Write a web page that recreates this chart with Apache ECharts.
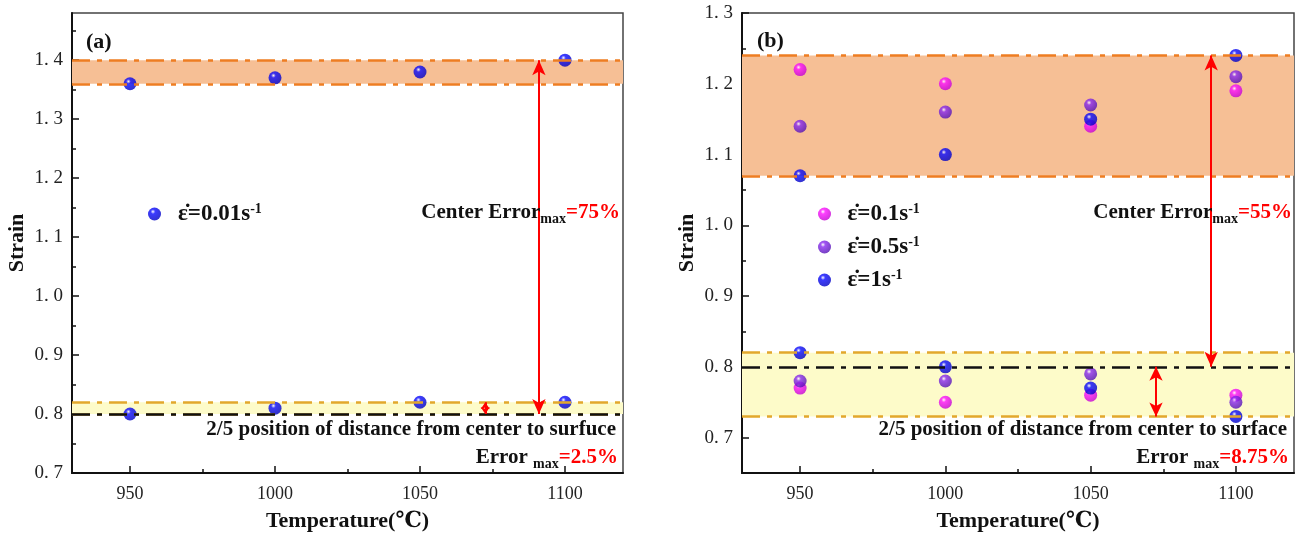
<!DOCTYPE html>
<html><head><meta charset="utf-8">
<script src="https://cdn.jsdelivr.net/npm/echarts@6/dist/echarts.min.js"></script>
<style>html,body{margin:0;padding:0;background:#fff}#c{width:1308px;height:542px}</style>
</head><body><div id="c"></div><script>
// ---------- data ----------
const temps = [950, 1000, 1050, 1100];
const tempMinorTicks = [975, 1025, 1075];
// panel (a)
const a_rate001_center = [1.36, 1.37, 1.38, 1.40];
const a_rate001_pos = [0.80, 0.81, 0.82, 0.82];
const a_yTicks = [0.7, 0.8, 0.9, 1.0, 1.1, 1.2, 1.3, 1.4];
const a_yMinor = [0.75, 0.85, 0.95, 1.05, 1.15, 1.25, 1.35, 1.45];
const a_centerBand = [1.36, 1.40];
const a_posBand = [0.80, 0.82];
const a_refLine = 0.80;
const a_bigArrow = [1091, 1.40, 0.80];
const a_smallArrow = [1072.5, 0.82, 0.80];
// panel (b)
const b_rate01_center = [1.22, 1.20, 1.14, 1.19];
const b_rate01_pos = [0.77, 0.75, 0.76, 0.76];
const b_rate05_center = [1.14, 1.16, 1.17, 1.21];
const b_rate05_pos = [0.78, 0.78, 0.79, 0.75];
const b_rate1_center = [1.07, 1.10, 1.15, 1.24];
const b_rate1_pos = [0.82, 0.80, 0.77, 0.73];
const b_yTicks = [0.7, 0.8, 0.9, 1.0, 1.1, 1.2, 1.3];
const b_yMinor = [0.75, 0.85, 0.95, 1.05, 1.15, 1.25];
const b_centerBand = [1.07, 1.24];
const b_posBand = [0.73, 0.82];
const b_refLine = 0.80;
const b_bigArrow = [1091.5, 1.24, 0.80];
const b_smallArrow = [1072.5, 0.80, 0.73];

// ---------- styles ----------
const SERIF = '"Liberation Serif","Times New Roman","DejaVu Serif",serif';
const ORANGE = '#EE7D22', GOLD = '#E2A82C', PEACH = '#F6BF95', LEMON = '#FDFBC9';
const DASHDOT = [18, 7, 5, 7];
function sphere(mid, edge) {
  return {type: 'radial', x: 0.38, y: 0.32, r: 0.72,
    colorStops: [{offset: 0, color: '#ffffff'}, {offset: 0.25, color: mid}, {offset: 1, color: edge}]};
}
const BLUE = sphere('#0a0aff', '#0000c0');
const PURPLE = sphere('#8a2af0', '#5010b0');
const MAGENTA = sphere('#ff10ff', '#c000d0');

function pts(xs, ...ys) { const out = []; ys.forEach(arr => arr.forEach((v, i) => out.push([xs[i], v]))); return out; }
function fmtY(v) { return v.toFixed(1).replace('.', '. '); }
function fmtX(v) { return String(v); }

function xAxes(g) {
  return [{
    type: 'value', gridIndex: g, min: 930, max: 1120, position: 'bottom',
    name: 'Temperature(℃)', nameLocation: 'middle', nameGap: 37,
    nameTextStyle: {fontFamily: SERIF, fontWeight: 'bold', fontSize: 22, color: '#111'},
    axisLine: {onZero: false, lineStyle: {color: '#111', width: 2}},
    axisTick: {inside: true, length: 7, customValues: temps, lineStyle: {color: '#111', width: 1.5}},
    axisLabel: {customValues: temps, formatter: fmtX, fontFamily: SERIF, fontSize: 18, color: '#222', margin: 12},
    splitLine: {show: false}
  }, {
    type: 'value', gridIndex: g, min: 930, max: 1120, position: 'bottom',
    axisLine: {show: false}, axisLabel: {show: false}, splitLine: {show: false},
    axisTick: {inside: true, length: 4, customValues: tempMinorTicks, lineStyle: {color: '#111', width: 1.5}}
  }];
}
function yAxes(g, min, max, ticks, minor) {
  return [{
    type: 'value', gridIndex: g, min: min, max: max, position: 'left',
    name: 'Strain', nameLocation: 'middle', nameGap: 44,
    nameTextStyle: {fontFamily: SERIF, fontWeight: 'bold', fontSize: 22, color: '#111'},
    axisLine: {onZero: false, lineStyle: {color: '#111', width: 2}},
    axisTick: {inside: true, length: 7, customValues: ticks, lineStyle: {color: '#111', width: 1.5}},
    axisLabel: {customValues: ticks, formatter: fmtY, fontFamily: SERIF, fontSize: 19, color: '#222', margin: 9},
    splitLine: {show: false}
  }, {
    type: 'value', gridIndex: g, min: min, max: max, position: 'left',
    axisLine: {show: false}, axisLabel: {show: false}, splitLine: {show: false},
    axisTick: {inside: true, length: 4, customValues: minor, lineStyle: {color: '#111', width: 1.5}}
  }];
}
function hline(y, color) {
  return {yAxis: y, lineStyle: {color: color, type: DASHDOT, width: 2.6}};
}
function arrow(a, size) {
  return [{coord: [a[0], a[1]], symbolSize: size}, {coord: [a[0], a[2]], symbolSize: size}];
}
function bandSeries(xi, yi, centerBand, posBand) {
  return {type: 'scatter', xAxisIndex: xi, yAxisIndex: yi, data: [], z: 1, silent: true,
    markArea: {silent: true, data: [
      [{yAxis: centerBand[0], itemStyle: {color: PEACH}}, {yAxis: centerBand[1]}],
      [{yAxis: posBand[0], itemStyle: {color: LEMON}}, {yAxis: posBand[1]}]
    ]}};
}
function lineSeries(xi, yi, centerBand, posBand, ref) {
  return {type: 'scatter', xAxisIndex: xi, yAxisIndex: yi, data: [], z: 5, silent: true,
    markLine: {silent: true, symbol: 'none', label: {show: false}, animation: false,
      data: [
        hline(centerBand[0], ORANGE), hline(centerBand[1], ORANGE),
        hline(posBand[0], GOLD), hline(posBand[1], GOLD), hline(ref, '#111')
      ]}};
}
function arrowSeries(xi, yi, big, small, smallSize) {
  return {type: 'scatter', xAxisIndex: xi, yAxisIndex: yi, data: [], z: 6, silent: true,
    markLine: {silent: true, symbol: ['arrow', 'arrow'], label: {show: false}, animation: false,
      lineStyle: {color: '#ff0000', type: 'solid', width: 2},
      data: [arrow(big, [10, 15]), arrow(small, smallSize)]}};
}
function pointSeries(name, xi, yi, data, color) {
  return {type: 'scatter', name: name, xAxisIndex: xi, yAxisIndex: yi, data: data, z: 3,
    symbol: 'circle', symbolSize: 13, itemStyle: {color: color}};
}

const legendRich = {
  e: {fontFamily: SERIF, fontWeight: 'bold', fontSize: 23, color: '#111', lineHeight: 24},
  sup: {fontFamily: SERIF, fontWeight: 'bold', fontSize: 14, color: '#111', lineHeight: 24, verticalAlign: 'top'}
};
function legendFmt(name) { return '{e|ε̇=' + name + 's}{sup|-1}'; }

const annRich = {
  b: {fontFamily: SERIF, fontWeight: 'bold', fontSize: 21, fill: '#111', lineHeight: 26},
  sub: {fontFamily: SERIF, fontWeight: 'bold', fontSize: 14, fill: '#111', lineHeight: 26, verticalAlign: 'bottom'},
  r: {fontFamily: SERIF, fontWeight: 'bold', fontSize: 21, fill: '#ff0000', lineHeight: 26}
};
function txt(x, y, text, align, size) {
  return {type: 'text', z: 100, style: {x: x, y: y, text: text, align: align || 'left', verticalAlign: 'middle',
    fontFamily: SERIF, fontWeight: 'bold', fontSize: size || 21, fill: '#111', rich: annRich}};
}

const option = {
  backgroundColor: '#fff',
  animation: false,
  grid: [
    {left: 72, top: 13, width: 551, height: 460, show: true, borderColor: '#444', borderWidth: 1.5, backgroundColor: 'transparent'},
    {left: 742, top: 13, width: 552, height: 460, show: true, borderColor: '#444', borderWidth: 1.5, backgroundColor: 'transparent'}
  ],
  xAxis: [...xAxes(0), ...xAxes(1)],
  yAxis: [...yAxes(0, 0.7, 1.48, a_yTicks, a_yMinor), ...yAxes(1, 0.65, 1.3, b_yTicks, b_yMinor)],
  legend: [
    {data: ['0.01'], left: 143, top: 197, icon: 'circle', itemWidth: 37, itemHeight: 13,
      formatter: legendFmt, textStyle: {rich: legendRich}, selectedMode: false},
    {data: ['0.1', '0.5', '1'], left: 813, top: 197, orient: 'vertical', itemGap: 9.5, icon: 'circle',
      itemWidth: 36, itemHeight: 13, formatter: legendFmt, textStyle: {rich: legendRich}, selectedMode: false}
  ],
  series: [
    bandSeries(0, 0, a_centerBand, a_posBand),
    lineSeries(0, 0, a_centerBand, a_posBand, a_refLine),
    arrowSeries(0, 0, a_bigArrow, a_smallArrow, [7, 7]),
    pointSeries('0.01', 0, 0, pts(temps, a_rate001_center, a_rate001_pos), BLUE),

    bandSeries(2, 2, b_centerBand, b_posBand),
    lineSeries(2, 2, b_centerBand, b_posBand, b_refLine),
    arrowSeries(2, 2, b_bigArrow, b_smallArrow, [10, 14]),
    pointSeries('0.1', 2, 2, pts(temps, b_rate01_center, b_rate01_pos), MAGENTA),
    pointSeries('0.5', 2, 2, pts(temps, b_rate05_center, b_rate05_pos), PURPLE),
    pointSeries('1', 2, 2, pts(temps, b_rate1_center, b_rate1_pos), BLUE)
  ],
  graphic: [
    txt(86, 42, '(a)', 'left', 22),
    txt(620, 213, '{b|Center Error}{sub|max}{r|=75%}', 'right'),
    txt(616, 430, '2/5 position of distance from center to surfuce', 'right', 21),
    txt(618, 458, '{b|Error }{sub|max}{r|=2.5%}', 'right'),

    txt(757, 41, '(b)', 'left', 22),
    txt(1292, 213, '{b|Center Error}{sub|max}{r|=55%}', 'right'),
    txt(1287, 430, '2/5 position of distance from center to surface', 'right', 21),
    txt(1289, 458, '{b|Error }{sub|max}{r|=8.75%}', 'right')
  ]
};
echarts.init(document.getElementById('c'), null, {renderer: 'canvas'}).setOption(option);
</script></body></html>
